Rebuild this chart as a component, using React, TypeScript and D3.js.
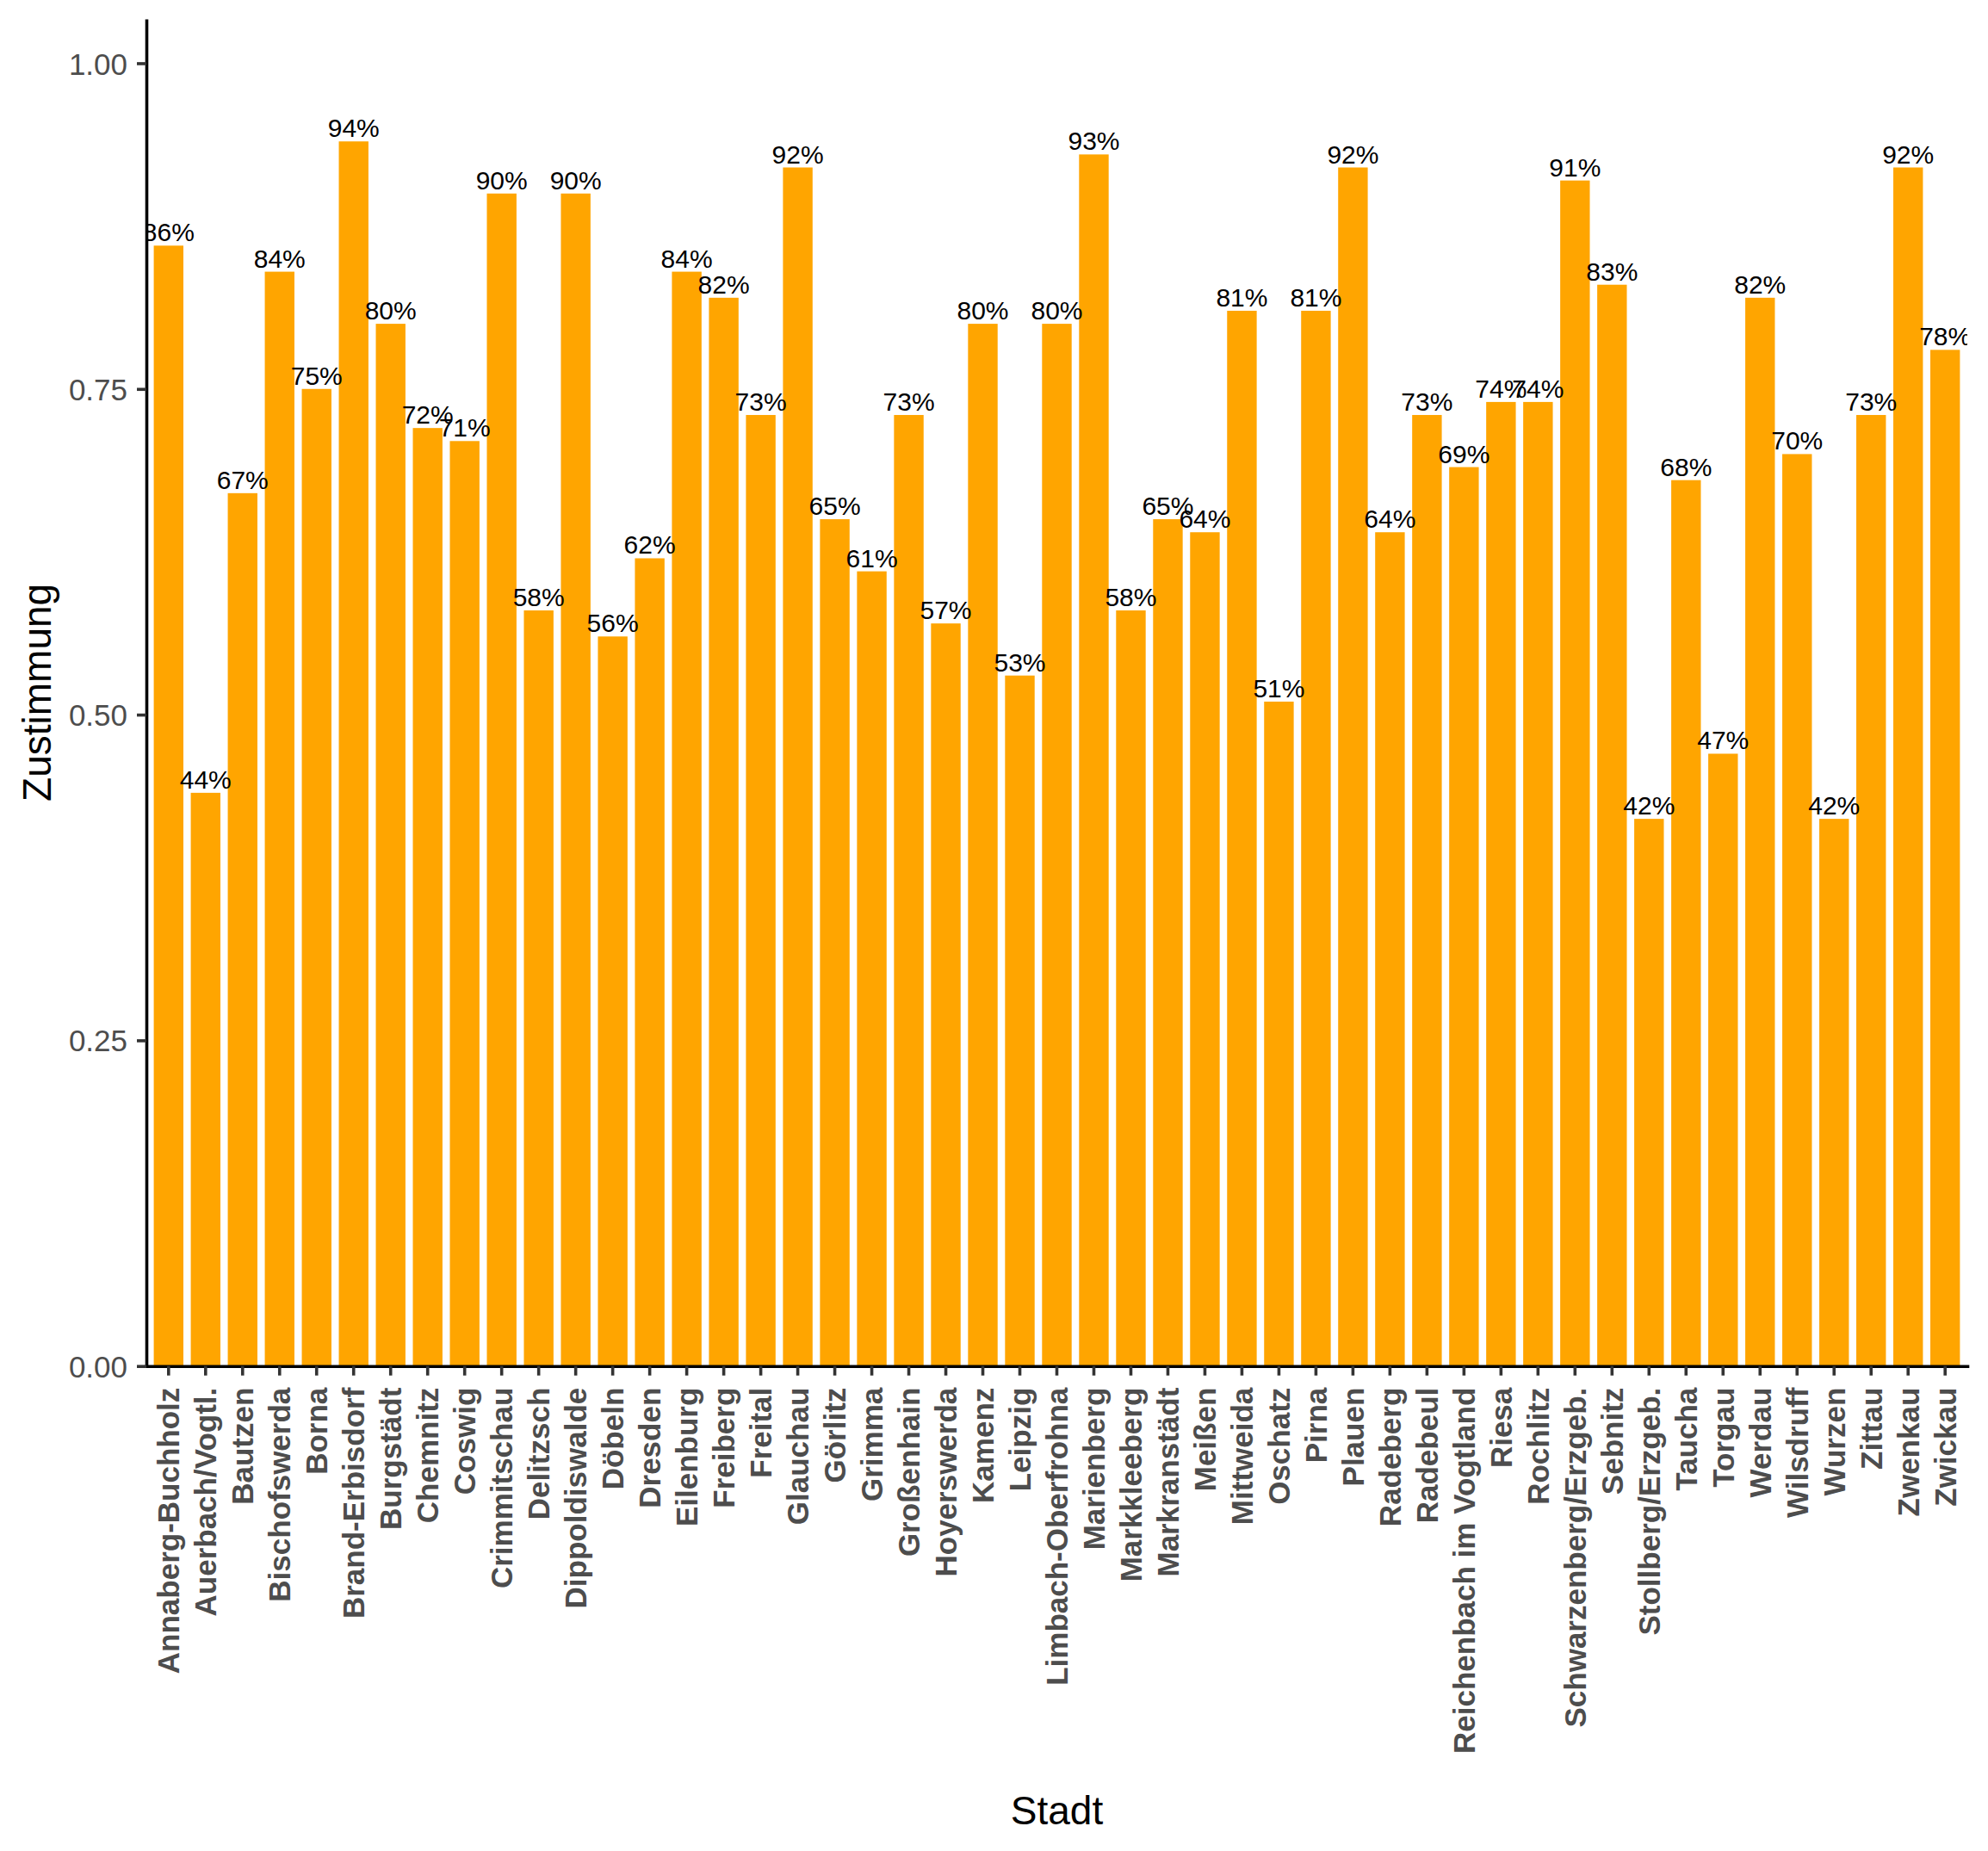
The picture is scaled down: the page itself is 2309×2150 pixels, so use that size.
import React, { useEffect, useRef } from 'react';
import * as d3 from 'd3';

// Zustimmung je Stadt
const cities = [
  'Annaberg-Buchholz', 'Auerbach/Vogtl.', 'Bautzen', 'Bischofswerda', 'Borna',
  'Brand-Erbisdorf', 'Burgstädt', 'Chemnitz', 'Coswig', 'Crimmitschau',
  'Delitzsch', 'Dippoldiswalde', 'Döbeln', 'Dresden', 'Eilenburg',
  'Freiberg', 'Freital', 'Glauchau', 'Görlitz', 'Grimma',
  'Großenhain', 'Hoyerswerda', 'Kamenz', 'Leipzig', 'Limbach-Oberfrohna',
  'Marienberg', 'Markkleeberg', 'Markranstädt', 'Meißen', 'Mittweida',
  'Oschatz', 'Pirna', 'Plauen', 'Radeberg', 'Radebeul',
  'Reichenbach im Vogtland', 'Riesa', 'Rochlitz', 'Schwarzenberg/Erzgeb.', 'Sebnitz',
  'Stollberg/Erzgeb.', 'Taucha', 'Torgau', 'Werdau', 'Wilsdruff',
  'Wurzen', 'Zittau', 'Zwenkau', 'Zwickau',
];
const shares = [
  0.86, 0.44, 0.67, 0.84, 0.75,
  0.94, 0.80, 0.72, 0.71, 0.90,
  0.58, 0.90, 0.56, 0.62, 0.84,
  0.82, 0.73, 0.92, 0.65, 0.61,
  0.73, 0.57, 0.80, 0.53, 0.80,
  0.93, 0.58, 0.65, 0.64, 0.81,
  0.51, 0.81, 0.92, 0.64, 0.73,
  0.69, 0.74, 0.74, 0.91, 0.83,
  0.42, 0.68, 0.47, 0.82, 0.70,
  0.42, 0.73, 0.92, 0.78,
];
const yTicks = [0, 0.25, 0.5, 0.75, 1];

const W = 2309;
const H = 2150;
const left = 170;
const right = 2285;
const top = 22;
const bottom = 1586.7;
const FONT = '"Liberation Sans", Arial, Helvetica, sans-serif';

function App() {
  const xAxisRef = useRef<SVGGElement>(null);
  const yAxisRef = useRef<SVGGElement>(null);

  const x = d3.scaleBand<string>().domain(cities).range([left, right]).paddingInner(0.2).paddingOuter(0.2);
  const y = d3.scaleLinear().domain([0, d3.max(shares)! * 1.1]).range([bottom, top]);
  const pct = d3.format('.0%');

  useEffect(() => {
    const yAxis = d3.select(yAxisRef.current);
    yAxis.call(d3.axisLeft(y).tickValues(yTicks).tickFormat(d3.format('.2f')).tickSize(11).tickSizeOuter(0).tickPadding(11) as any);
    yAxis.attr('font-family', FONT).attr('font-size', 35);
    yAxis.select('.domain').attr('stroke', '#000').attr('stroke-width', 3.6);
    yAxis.selectAll('.tick line').attr('stroke', '#333').attr('stroke-width', 3.6);
    yAxis.selectAll('.tick text').attr('fill', '#4D4D4D').attr('dy', '0.36em');

    const xAxis = d3.select(xAxisRef.current);
    xAxis.call(d3.axisBottom(x).tickSize(11).tickSizeOuter(0) as any);
    xAxis.attr('font-family', FONT).attr('font-size', 35).attr('font-weight', 'bold');
    xAxis.select('.domain').attr('stroke', '#000').attr('stroke-width', 3.6).attr('stroke-linecap', 'square');
    xAxis.selectAll('.tick line').attr('stroke', '#333').attr('stroke-width', 3.6);
    xAxis.selectAll('.tick text')
      .attr('fill', '#4D4D4D')
      .attr('transform', 'rotate(-90)')
      .attr('text-anchor', 'end')
      .attr('x', -25)
      .attr('y', 0)
      .attr('dy', '0.36em');
  }, []);

  return (
    <svg width={W} height={H} viewBox={`0 0 ${W} ${H}`}
      style={{ position: 'absolute', left: 0, top: 0, background: '#fff', display: 'block' }}>
      <defs>
        <clipPath id="panel">
          <rect x={left} y={top} width={right - left} height={bottom - top} />
        </clipPath>
      </defs>
      <rect x={0} y={0} width={W} height={H} fill="#fff" />
      <g>
        {cities.map((c, i) => (
          <rect key={c} x={x(c)} y={y(shares[i])} width={x.bandwidth()} height={bottom - y(shares[i])} fill="#FFA500" />
        ))}
      </g>
      <g clipPath="url(#panel)" fontFamily={FONT} fontSize={30} textAnchor="middle" fill="#000">
        {cities.map((c, i) => (
          <text key={c} x={x(c)! + x.bandwidth() / 2} y={y(shares[i]) - 5}>{pct(shares[i])}</text>
        ))}
      </g>
      <g ref={xAxisRef} transform={`translate(0, ${bottom})`} />
      <g ref={yAxisRef} transform={`translate(${left}, 0)`} />
      <text x={(left + right) / 2} y={2119} textAnchor="middle" fontFamily={FONT} fontSize={46} fill="#000">Stadt</text>
      <text transform={`translate(59, ${(top + bottom) / 2}) rotate(-90)`} textAnchor="middle" fontFamily={FONT} fontSize={46} fill="#000">Zustimmung</text>
    </svg>
  );
}

export default App;
